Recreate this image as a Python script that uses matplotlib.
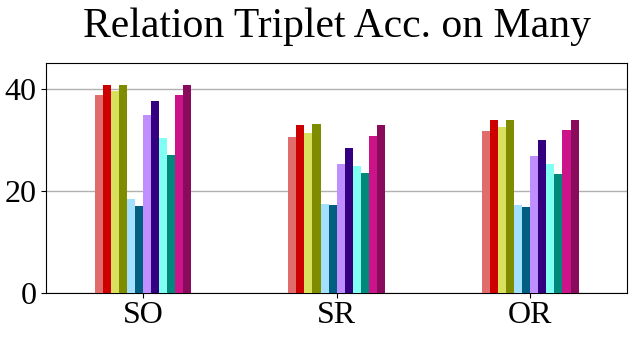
import matplotlib
matplotlib.use('Agg')
import numpy as np
from matplotlib import pyplot as plt

plt.rcParams['font.family'] = ['Liberation Serif', 'DejaVu Serif']

groups = ['SO', 'SR', 'OR']
# 12 methods per group
so_vals = [38.8, 40.8, 39.6, 40.8, 18.4, 17.1, 34.9, 37.5, 30.4, 27.1, 38.8, 40.8]
sr_vals = [30.6, 32.9, 31.4, 33.1, 17.5, 17.3, 25.3, 28.4, 24.9, 23.5, 30.8, 32.9]
or_vals = [31.8, 33.9, 32.5, 33.9, 17.3, 16.9, 26.9, 30.0, 25.3, 23.3, 32.0, 33.9]
colors = ['#e06c6c', '#cc0000', '#d9e05e', '#7f8c00', '#a3e0ff', '#005f80',
          '#bf8fff', '#35007f', '#80fff2', '#00897b', '#cc148a', '#890b5c']

values = np.array([so_vals, sr_vals, or_vals])
n_bars = values.shape[1]
group_w = 0.5
bar_w = group_w / n_bars
x = np.arange(len(groups))

fig, ax = plt.subplots(figsize=(6.34, 3.37), dpi=100)
fig.subplots_adjust(left=0.073, right=0.989, bottom=0.13, top=0.813)

for i in range(n_bars):
    offs = -group_w / 2 + (i + 0.5) * bar_w
    ax.bar(x + offs, values[:, i], width=bar_w, color=colors[i], zorder=3)

ax.set_xlim(-0.5, 2.5)
ax.set_ylim(0, 45)
ax.set_yticks([0, 20, 40])
ax.set_xticks(x)
ax.set_xticklabels(groups)
ax.tick_params(axis='both', labelsize=23)
ax.tick_params(axis='x', length=3.5, pad=2)
ax.grid(axis='y', color='#b0b0b0', linewidth=1, zorder=0)
ax.set_axisbelow(True)
ax.set_title('Relation Triplet Acc. on Many', fontsize=30, pad=19)

plt.savefig('out.png', dpi=100)
plt.close(fig)
